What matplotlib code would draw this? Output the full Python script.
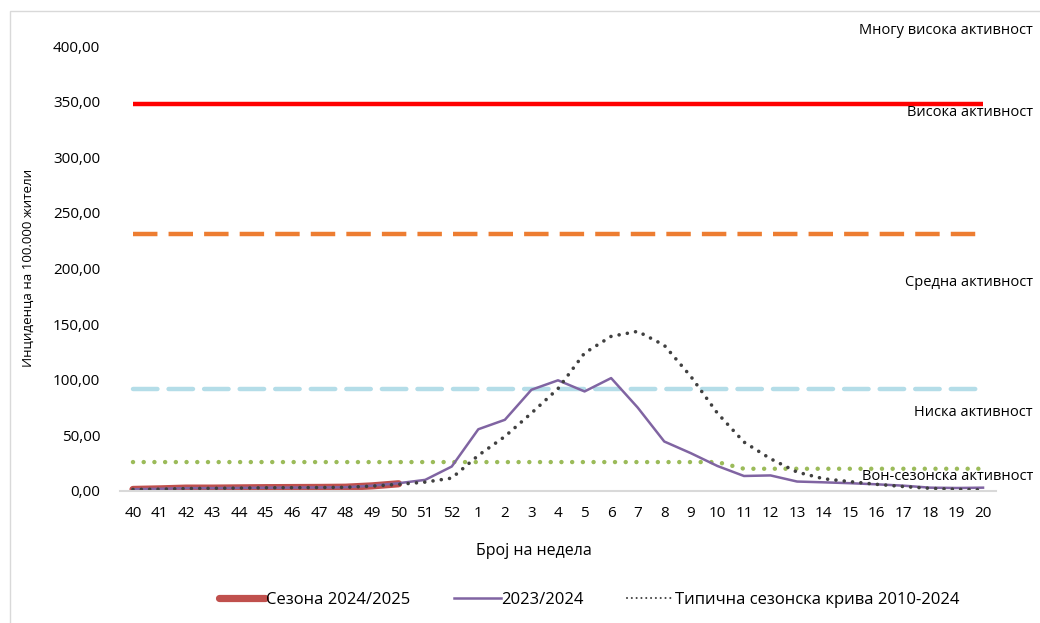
import matplotlib.pyplot as plt
from matplotlib.patches import Rectangle

plt.rcParams['font.family'] = ['Open Sans', 'DejaVu Sans']

# --- data ---
weeks = ['40', '41', '42', '43', '44', '45', '46', '47', '48', '49', '50', '51', '52',
         '1', '2', '3', '4', '5', '6', '7', '8', '9', '10', '11', '12', '13', '14', '15',
         '16', '17', '18', '19', '20']

season_2024 = [1.4, 1.9, 2.6, 2.6, 2.8, 3.0, 3.1, 3.2, 3.4, 4.6, 6.5]

season_2023 = [1.6, 2.0, 2.6, 2.6, 2.8, 3.0, 3.1, 3.2, 3.4, 4.8, 7.0, 10.0, 22.0,
               55.5, 64.0, 91.0, 99.5, 89.5, 101.5, 75.0, 44.5, 34.0, 22.5, 13.5, 14.0,
               8.5, 7.8, 7.0, 6.0, 4.8, 3.0, 2.7, 3.0]

typical_curve = [1.4, 1.6, 2.2, 2.4, 2.6, 2.9, 3.0, 3.1, 3.3, 4.4, 6.0, 8.0, 11.6,
                 32.0, 49.0, 70.0, 92.0, 124.0, 139.0, 143.5, 131.0, 103.0, 70.0, 44.0,
                 29.0, 17.0, 11.0, 8.4, 6.0, 4.0, 2.4, 1.5, 1.0]

thr_very_high = [348.0] * len(weeks)
thr_high = [231.0] * len(weeks)
thr_medium = [92.0] * len(weeks)
thr_low = [26.0] * 23 + [20.0] * 10

level_labels = ['Многу висока активност', 'Висока активност', 'Средна активност',
                'Ниска активност', 'Вон-сезонска активност']

yticks = [0, 50, 100, 150, 200, 250, 300, 350, 400]

# --- figure ---
W, H = 1040, 623
fig = plt.figure(figsize=(W / 100, H / 100), dpi=100)
ax = fig.add_axes([119.7 / W, 1 - 491 / H, (996.3 - 119.7) / W, (491 - 46) / H])

# chart area border
fig.patches.append(Rectangle((10 / W, -0.1), 1.2, 1.1 - 11 / H, transform=fig.transFigure,
                             fill=False, edgecolor='#d9d9d9', linewidth=1.0))

x = list(range(len(weeks)))

ax.plot(x, thr_very_high, color='#ff0000', linewidth=3.2, solid_capstyle='butt')
ax.plot(x, thr_high, color='#ed7d31', linewidth=3.2, dashes=(5.5, 2.5), dash_capstyle='butt')
ax.plot(x, thr_medium, color='#b4dde8', linewidth=3.2, dashes=(5.5, 2.5), dash_capstyle='round')
ax.plot(x, thr_low, color='#9bbb59', linewidth=3.2, dashes=(0.01, 2.4), dash_capstyle='round')

l1, = ax.plot(x[:len(season_2024)], season_2024, color='#c0504d', linewidth=5.2,
              solid_capstyle='round', label='Сезона 2024/2025')
l2, = ax.plot(x, season_2023, color='#8064a2', linewidth=1.8, label='2023/2024')
l3, = ax.plot(x, typical_curve, color='#404040', linewidth=2.6, dashes=(0.01, 2.3),
              dash_capstyle='round', label='Типична сезонска крива 2010-2024')

ax.set_xlim(-0.5, len(weeks) - 0.5)
ax.set_ylim(0, 400)
ax.set_xticks(x)
ax.set_xticklabels(weeks)
ax.set_yticks(yticks)
ax.set_yticklabels([f'{v:.2f}'.replace('.', ',') for v in yticks])
ax.tick_params(axis='both', length=0, labelsize=11, colors='#000000')
ax.tick_params(axis='x', pad=11)
ax.tick_params(axis='y', pad=14)

for side in ['top', 'right', 'left']:
    ax.spines[side].set_visible(False)
ax.spines['bottom'].set_color('#d9d9d9')
ax.spines['bottom'].set_linewidth(1.5)
ax.set_facecolor('none')

# activity level labels on the right
label_y = [31, 113, 282, 413, 476]
for text, yy in zip(level_labels, label_y):
    fig.text(1033 / W, 1 - yy / H, text, ha='right', va='center', fontsize=10.5)

fig.text(28 / W, 1 - 268 / H, 'Инциденца на 100.000 жители', rotation=90,
         ha='center', va='center', fontsize=9.6)
fig.text(534 / W, 1 - 551 / H, 'Број на недела', ha='center', va='center', fontsize=11.5)

leg_l1 = plt.Line2D([], [], color='#c0504d', linewidth=5.2, solid_capstyle='round')
leg = fig.legend([leg_l1, l2, l3], [l1.get_label(), l2.get_label(), l3.get_label()],
                 loc='center', bbox_to_anchor=(589 / W, 1 - 600 / H), ncol=3,
                 frameon=False, fontsize=12, handlelength=2.8, handletextpad=0.05,
                 columnspacing=2.6)
leg.get_lines()[2].set_linewidth(1.5)

fig.savefig('out.png', dpi=100)
